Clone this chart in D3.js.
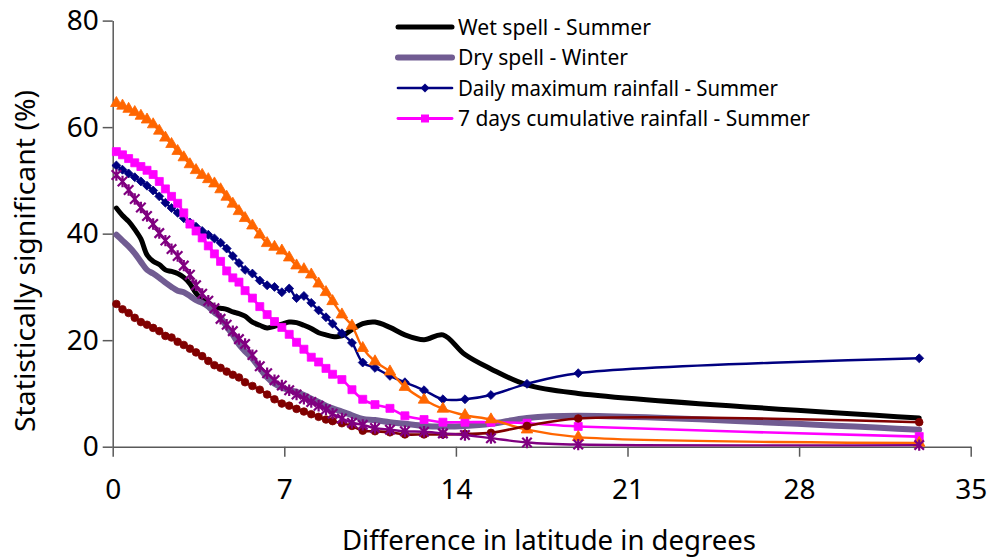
<!DOCTYPE html>
<html>
<head>
<meta charset="utf-8">
<script src="https://cdn.jsdelivr.net/npm/d3@7"></script>
<style>
  body { margin: 0; background: #fff; }
  svg { display: block; }
  text { font-family: "Noto Sans", "Open Sans", sans-serif; fill: #000; }
</style>
</head>
<body>
<div id="chart"></div>
<script>
// Difference in latitude (degrees) for each bin, shared by all series
const xDeg = [0.15, 0.4, 0.65, 0.9, 1.15, 1.4, 1.65, 1.9, 2.15, 2.4, 2.65, 2.9, 3.15, 3.4, 3.65, 3.9,
  4.15, 4.4, 4.65, 4.9, 5.15, 5.4, 5.7, 6.0, 6.3, 6.6, 6.9, 7.2, 7.5, 7.8, 8.1, 8.4, 8.7,
  8.97, 9.35, 9.76, 10.2, 10.7, 11.31, 11.92, 12.7, 13.47, 14.37, 15.43, 16.9, 18.99, 32.9];

// % statistically significant
const wetSpellSummer = [44.8, 43.4, 42.3, 40.8, 39.0, 36.0, 34.8, 34.2, 33.2, 32.9, 32.5, 31.8, 30.6, 28.8, 27.6, 27.1,
  26.2, 26.0, 25.8, 25.3, 25.0, 24.5, 23.4, 22.8, 22.3, 22.6, 23.0, 23.4, 23.3, 22.8, 22.2, 21.4, 21.0,
  20.7, 20.8, 22.0, 23.1, 23.4, 22.4, 21.0, 20.1, 21.0, 17.3, 14.6, 11.6, 10.0, 5.4];
const drySpellWinter = [39.8, 38.7, 37.6, 36.3, 34.7, 33.2, 32.5, 31.7, 30.8, 30.0, 29.3, 29.0, 28.3, 27.5, 27.0, 26.3,
  25.2, 24.3, 22.5, 21.0, 19.2, 17.9, 16.5, 14.7, 13.0, 11.8, 11.1, 10.6, 10.3, 9.7, 9.0, 8.4, 7.7,
  7.2, 6.6, 5.9, 5.2, 5.0, 4.6, 4.3, 3.9, 3.8, 3.9, 4.3, 5.4, 5.8, 3.2];
const dailyMaxSummer = [52.8, 52.0, 51.3, 50.6, 49.8, 49.0, 48.1, 47.0, 45.8, 44.8, 43.9, 42.9, 42.1, 41.3, 40.5, 39.8,
  39.1, 38.3, 37.2, 35.8, 34.5, 33.2, 32.5, 31.2, 30.3, 30.0, 29.0, 29.7, 27.9, 28.3, 27.0, 25.6, 24.3,
  23.1, 21.3, 19.5, 15.8, 14.8, 13.3, 12.1, 10.6, 8.9, 8.9, 9.7, 11.8, 13.8, 16.6];
const cum7Summer = [55.4, 54.8, 54.1, 53.3, 52.6, 51.9, 51.1, 49.8, 48.4, 47.0, 45.7, 43.9, 41.8, 40.5, 39.2, 37.7,
  36.2, 34.8, 33.0, 31.7, 30.9, 29.3, 27.9, 26.3, 24.8, 23.5, 22.4, 21.1, 19.6, 18.3, 16.8, 15.9, 14.7,
  13.6, 12.6, 10.7, 8.9, 7.9, 7.2, 5.8, 5.1, 4.6, 4.6, 4.6, 4.4, 3.8, 1.9];
// series without a legend entry
const orangeSeries = [64.5, 64.0, 63.4, 62.8, 62.1, 61.4, 60.5, 59.3, 58.0, 56.8, 55.5, 54.3, 53.0, 51.9, 51.0, 50.2,
  49.4, 48.3, 46.9, 45.6, 44.2, 42.9, 41.5, 39.8, 38.2, 37.5, 36.8, 35.5, 34.0, 33.3, 32.3, 30.6, 29.0,
  27.3, 24.8, 22.7, 18.5, 16.0, 14.1, 11.2, 8.8, 7.1, 5.9, 5.1, 3.2, 1.8, 0.7];
const darkRedSeries = [26.8, 25.8, 25.1, 24.2, 23.4, 22.9, 22.3, 21.7, 20.8, 20.5, 19.7, 19.1, 18.4, 17.7, 17.0, 16.1,
  15.3, 14.8, 14.1, 13.5, 13.0, 12.1, 11.4, 10.7, 9.8, 8.9, 8.1, 7.7, 7.1, 6.6, 6.1, 5.6, 5.1,
  4.8, 4.4, 3.9, 3.0, 2.9, 2.7, 2.3, 2.3, 2.3, 2.4, 2.6, 3.9, 5.3, 4.6];
const purpleSeries = [51.0, 49.8, 48.2, 46.5, 44.9, 43.3, 41.8, 40.1, 38.7, 37.1, 35.8, 34.0, 32.3, 30.3, 28.7, 27.4,
  26.0, 24.0, 22.9, 21.7, 20.2, 19.3, 17.2, 15.1, 13.8, 12.5, 11.5, 10.6, 9.8, 9.0, 8.4, 7.7, 7.0,
  6.2, 5.3, 4.5, 4.1, 3.5, 3.2, 2.9, 2.8, 2.5, 2.2, 1.6, 0.8, 0.4, 0.3];

const xTicks = [0, 7, 14, 21, 28, 35];
const yTicks = [0, 20, 40, 60, 80];

// custom marker shapes for d3.symbol
const diamond = { draw(ctx, size) { const r = Math.sqrt(size / 2); ctx.moveTo(0, -r); ctx.lineTo(r, 0); ctx.lineTo(0, r); ctx.lineTo(-r, 0); ctx.closePath(); } };
const asterisk = { draw(ctx, size) { const r = Math.sqrt(size) / 2;
  ctx.moveTo(-r, -r); ctx.lineTo(r, r); ctx.moveTo(-r, r); ctx.lineTo(r, -r); ctx.moveTo(0, -r * 1.2); ctx.lineTo(0, r * 1.2); } };

const series = [
  { name: "Wet spell - Summer", values: wetSpellSummer, color: "#000000", width: 5, legend: true },
  { name: "Dry spell - Winter", values: drySpellWinter, color: "#715c92", width: 6, legend: true },
  { name: "Daily maximum rainfall - Summer", values: dailyMaxSummer, color: "#000080", width: 2.4, marker: diamond, size: 40, legend: true },
  { name: "7 days cumulative rainfall - Summer", values: cum7Summer, color: "#ff00ff", width: 2.6, marker: d3.symbolSquare, size: 64, legend: true },
  { name: "", values: orangeSeries, color: "#ff6600", width: 2.4, marker: d3.symbolTriangle, size: 58 },
  { name: "", values: darkRedSeries, color: "#800000", width: 2.6, marker: d3.symbolCircle, size: 46 },
  { name: "", values: purpleSeries, color: "#800080", width: 2.4, marker: asterisk, size: 90, stroked: true }
];

const W = 989, H = 557;
const svg = d3.select("#chart").append("svg").attr("width", W).attr("height", H);

const x = d3.scaleLinear().domain([0, 35]).range([112.7, 970.7]);
const y = d3.scaleLinear().domain([0, 80]).range([446.7, 20.6]);

// axes
const axisColor = "#595959";
const gx = svg.append("g").attr("transform", `translate(0,${y(0)})`)
  .call(d3.axisBottom(x).tickValues(xTicks).tickSize(10).tickSizeOuter(0).tickPadding(22));
const gy = svg.append("g").attr("transform", `translate(${x(0)},0)`)
  .call(d3.axisLeft(y).tickValues(yTicks).tickSize(10).tickSizeOuter(0).tickPadding(4));
[gx, gy].forEach(g => {
  g.select(".domain").attr("stroke", axisColor).attr("stroke-width", 1.5);
  g.selectAll(".tick line").attr("stroke", axisColor).attr("stroke-width", 1.5);
  g.selectAll(".tick text").attr("fill", "#000").style("font-size", "28px")
    .style("font-family", '"Noto Sans", sans-serif');
});

// axis titles
svg.append("text").attr("x", 549).attr("y", 550).attr("text-anchor", "middle")
  .style("font-size", "28px").attr("textLength", 414).attr("lengthAdjust", "spacingAndGlyphs")
  .text("Difference in latitude in degrees");
svg.append("text").attr("transform", "translate(35,261) rotate(-90)").attr("text-anchor", "middle")
  .style("font-size", "28px").attr("textLength", 342).attr("lengthAdjust", "spacingAndGlyphs")
  .text("Statistically significant (%)");

// lines and markers
const line = d3.line().x(d => x(d[0])).y(d => y(d[1])).curve(d3.curveCatmullRom.alpha(0.5));
const plot = svg.append("g");
series.forEach(s => {
  const pts = xDeg.map((v, i) => [v, s.values[i]]);
  plot.append("path").datum(pts).attr("d", line)
    .attr("fill", "none").attr("stroke", s.color).attr("stroke-width", s.width)
    .attr("stroke-linejoin", "round").attr("stroke-linecap", "round");
  if (s.marker) {
    const sym = d3.symbol().type(s.marker).size(s.size);
    plot.append("g").selectAll("path").data(pts).join("path")
      .attr("transform", d => `translate(${x(d[0])},${y(d[1])})`)
      .attr("d", sym)
      .attr("fill", s.stroked ? "none" : s.color)
      .attr("stroke", s.color).attr("stroke-width", s.stroked ? 2.2 : 0.8);
  }
});

// legend (only the four named series)
const legendSeries = series.filter(s => s.legend);
const legendWidths = [193, 170, 320, 352];
const lg = svg.append("g").attr("transform", "translate(398,27)");
legendSeries.forEach((s, i) => {
  const row = lg.append("g").attr("transform", `translate(0,${i * 30.5})`);
  row.append("line").attr("x1", 0).attr("x2", 54).attr("y1", 0).attr("y2", 0)
    .attr("stroke", s.color).attr("stroke-width", s.width + (s.marker ? 0.3 : 0)).attr("stroke-linecap", "round");
  if (s.marker) {
    row.append("path").attr("transform", "translate(27,0)")
      .attr("d", d3.symbol().type(s.marker).size(s.size)).attr("fill", s.color);
  }
  row.append("text").attr("x", 60).attr("y", 7.5).style("font-size", "21px")
    .attr("textLength", legendWidths[i]).attr("lengthAdjust", "spacingAndGlyphs")
    .text(s.name);
});
</script>
</body>
</html>
